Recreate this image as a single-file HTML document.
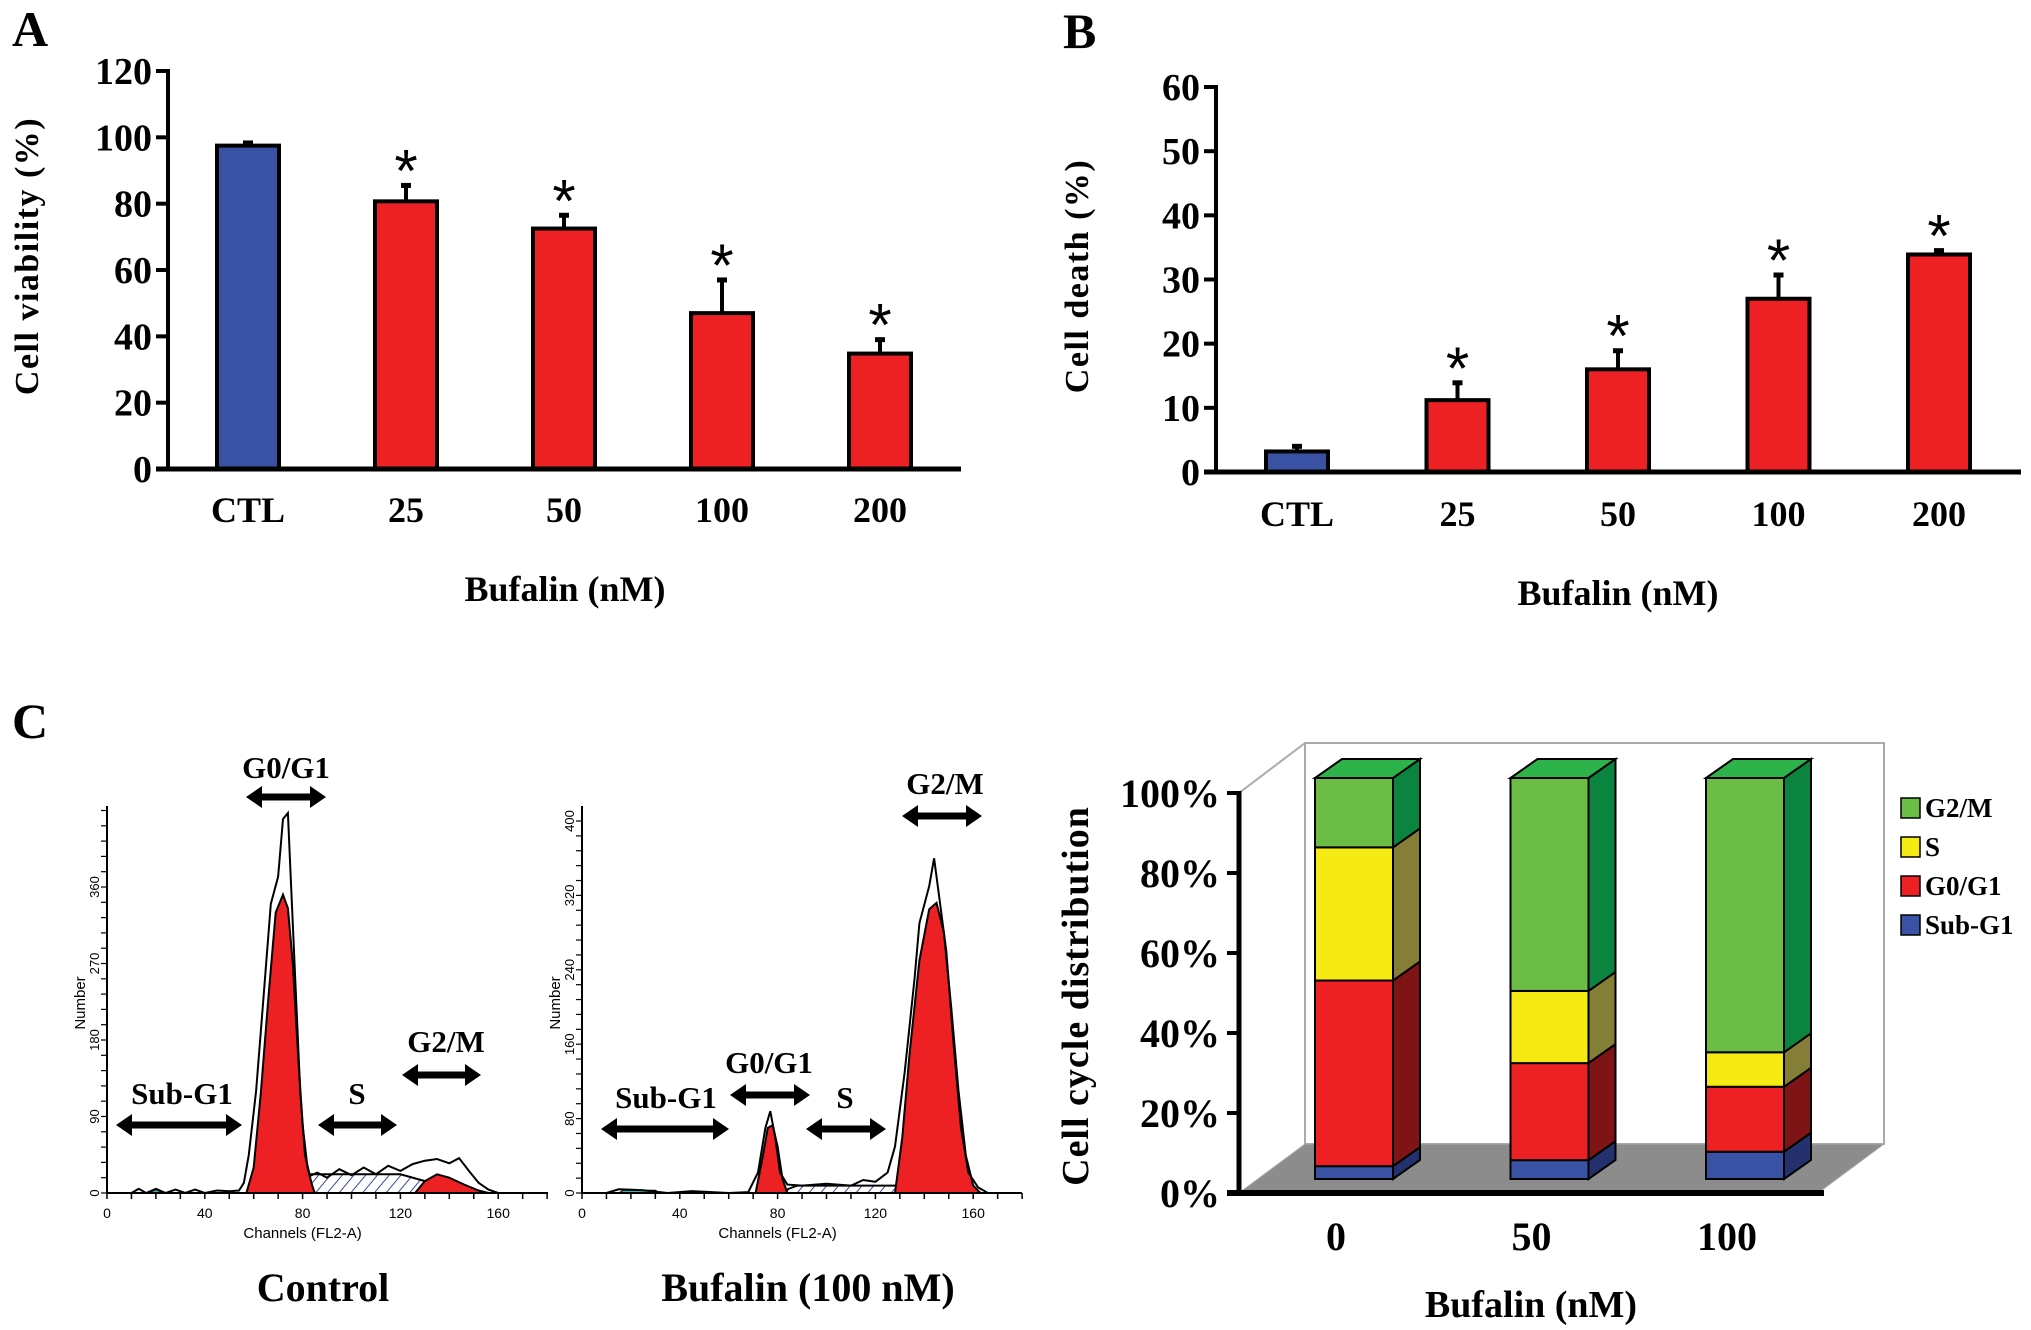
<!DOCTYPE html>
<html><head><meta charset="utf-8"><style>
html,body{margin:0;padding:0;background:#fff}
svg{display:block}
text{font-family:"Liberation Serif",serif;font-weight:bold;fill:#000}
.sm{font-family:"Liberation Sans",sans-serif;font-weight:normal}
.star{font-family:"Liberation Sans",sans-serif;font-weight:normal}
</style></head><body>
<svg id="fig" width="2031" height="1330" viewBox="0 0 2031 1330" xmlns="http://www.w3.org/2000/svg">
<defs>
<pattern id="hatch" width="9" height="9" patternUnits="userSpaceOnUse" patternTransform="rotate(40)">
<rect width="9" height="9" fill="#fff"/><line x1="0" y1="0" x2="0" y2="9" stroke="#3a4aa0" stroke-width="2"/>
</pattern>
</defs>
<g id="A"></g>
<g id="B"></g>
<g id="C1"></g>
<g id="C2"></g>
<g id="D"></g>
<g>
<text x="12" y="46" font-size="50">A</text>
<text x="1063" y="48" font-size="50">B</text>
<text x="12" y="738" font-size="50">C</text>
<text x="0" y="0" font-size="34" letter-spacing="1.5" text-anchor="middle" transform="translate(38,256) rotate(-90)">Cell viability (%)</text>
<text x="0" y="0" font-size="34" letter-spacing="1.5" text-anchor="middle" transform="translate(1088,276) rotate(-90)">Cell death (%)</text>
<text x="565" y="601" font-size="36" text-anchor="middle">Bufalin (nM)</text>
<text x="1618" y="605" font-size="36" text-anchor="middle">Bufalin (nM)</text>
<text x="323" y="1301" font-size="40" text-anchor="middle">Control</text>
<text x="808" y="1301" font-size="40" text-anchor="middle">Bufalin (100 nM)</text>
<text x="0" y="0" font-size="38" letter-spacing="1" text-anchor="middle" transform="translate(1088,996) rotate(-90)">Cell cycle distribution</text>
<text x="1531" y="1317" font-size="38" text-anchor="middle">Bufalin (nM)</text>
</g>
</svg>
<script>
// Panel A data
const catsA = ["CTL","25","50","100","200"];
const valsA = [97.5,80.7,72.5,47,34.8];
const errA = [0.8,4.8,4.0,10,4.2];
const ticksA = [0,20,40,60,80,100,120];
// Panel B data
const catsB = ["CTL","25","50","100","200"];
const valsB = [3.2,11.2,16,27,33.9];
const errB = [0.8,2.7,2.9,3.7,0.6];
const ticksB = [0,10,20,30,40,50,60];
// Histogram data [channel,count]
const ctrlLine = [[10,0],[13,5],[16,0],[20,5],[24,0],[28,4],[32,0],[36,4],[40,0],[45,3],[50,2],[54,3],[56,12],[58,45],[61,120],[64,230],[67,340],[70,372],[72,440],[74,447],[75,380],[77,250],[79,120],[81,45],[83,20],[86,24],[90,18],[95,28],[100,21],[105,30],[110,22],[115,32],[120,26],[125,34],[130,38],[135,40],[140,35],[144,41],[148,26],[152,12],[156,4],[160,0]];
const ctrlG1 = [[57,0],[60,30],[63,120],[66,230],[69,330],[72,351],[74,335],[76,270],[78,170],[80,80],[82,30],[84,8],[85,0]];
const ctrlS = [[64,0],[80,22],[120,22],[135,10],[150,0]];
const ctrlG2 = [[126,0],[130,14],[135,22],[140,18],[146,10],[152,3],[156,0]];
const ctrlSub = [[17,0],[20,4],[23,0]];
const bufLine = [[10,0],[15,4],[25,3],[35,0],[45,2],[60,0],[68,1],[72,22],[75,70],[77,88],[79,60],[81,22],[84,9],[90,8],[100,10],[110,8],[115,14],[120,12],[125,22],[128,50],[132,130],[136,230],[138,290],[142,330],[144,360],[146,320],[149,260],[152,160],[155,70],[158,22],[162,6],[166,0]];
const bufG1 = [[71,0],[74,40],[76,70],[78,73],[80,50],[82,15],[84,0]];
const bufS = [[80,0],[88,8],[128,8],[140,0]];
const bufG2 = [[128,0],[131,60],[134,150],[138,250],[142,305],[145,312],[148,280],[151,200],[154,110],[157,40],[160,8],[163,0]];
const bufSub = [[15,0],[17,3],[30,3],[32,0]];
// Cell cycle data (%)
const ccCats = ["0","50","100"];
const subG1 = [3.2,4.7,6.8];
const g0g1 = [46.3,24.2,16.2];
const sPh = [33.2,18.0,8.6];
const g2m = [17.3,53.1,68.4];
const ccTicks = [0,20,40,60,80,100];

const NS="http://www.w3.org/2000/svg";
function mk(parent,tag,attrs,txt){const e=document.createElementNS(NS,tag);for(const k in attrs)e.setAttribute(k,attrs[k]);if(txt!==undefined)e.textContent=txt;parent.appendChild(e);return e;}

function barPanel(g,cats,vals,errs,ticks,o){
  const y=v=>o.y0-(v-0)*(o.y0-o.yTop)/ticks[ticks.length-1];
  const x=i=>o.x0+i*o.step;
  ticks.forEach(t=>{
    const tk=mk(g,'line',{x1:o.ax-12,x2:o.ax,y1:y(t),y2:y(t),stroke:'#000','stroke-width':4});
    
    
    const tl=mk(g,'text',{x:o.ax-16,y:y(t)+13,'text-anchor':'end','font-size':38},String(t));
    
    
  });
  cats.forEach((c,i)=>{
    const cx=x(i),top=y(vals[i]),et=y(vals[i]+errs[i]);
    const eb=mk(g,'line',{x1:cx,x2:cx,y1:top,y2:et,stroke:'#000','stroke-width':4});
    
    
    const ec=mk(g,'line',{x1:cx-5,x2:cx+5,y1:et,y2:et,stroke:'#000','stroke-width':5});
    
    
    const r=mk(g,'rect',{x:cx-31,y:top,width:62,height:o.y0-top,fill:i==0?'#3a52a4':'#ed2024',stroke:'#000','stroke-width':4});
    
    
    if(i>0){const s=mk(g,'text',{x:cx,y:et+6,'text-anchor':'middle','font-size':60,class:'star'},'*');
      
      }
    const cl=mk(g,'text',{x:cx,y:o.catY,'text-anchor':'middle','font-size':36},c);
    
    
  });
  const ya=mk(g,'line',{x1:o.ax,x2:o.ax,y1:o.yTop-2,y2:o.y0,stroke:'#000','stroke-width':4});
  
  
  const xa=mk(g,'line',{x1:o.ax-12,x2:o.xEnd,y1:o.y0,y2:o.y0,stroke:'#000','stroke-width':5});
  
  
}
const A=document.getElementById('A');
barPanel(A,catsA,valsA,errA,ticksA,{ax:168,y0:469,yTop:71,x0:248,step:158,xEnd:961,catY:522});
const B=document.getElementById('B');
barPanel(B,catsB,valsB,errB,ticksB,{ax:1216,y0:472,yTop:87,x0:1297,step:160.5,xEnd:2021,catY:526});

function hist(g,o){
  const hx=c=>o.x0+c*2.445, hy=n=>1193-n*o.k;
  const path=pts=>'M'+pts.map(p=>hx(p[0]).toFixed(1)+','+hy(p[1]).toFixed(1)).join('L');
  let e;
  e=mk(g,'path',{d:path(o.S)+'Z',fill:'url(#hatch)',stroke:'#000','stroke-width':2});
  
  
  e=mk(g,'path',{d:path(o.G1)+'Z',fill:'#ed2024',stroke:'#000','stroke-width':2});
  
  
  e=mk(g,'path',{d:path(o.G2)+'Z',fill:'#ed2024',stroke:'#000','stroke-width':2});
  
  
  e=mk(g,'path',{d:path(o.sub)+'Z',fill:'#3ab3b0',stroke:'#000','stroke-width':1});
  
  
  e=mk(g,'path',{d:path(o.line),fill:'none',stroke:'#000','stroke-width':2});
  
  
  e=mk(g,'line',{x1:o.x0,x2:o.x0,y1:806,y2:1193,stroke:'#000','stroke-width':2});
  
  
  e=mk(g,'line',{x1:o.x0,x2:o.xEnd,y1:1193,y2:1193,stroke:'#000','stroke-width':2});
  
  
  for(let c=0;c<=180;c+=10){mk(g,'line',{x1:hx(c),x2:hx(c),y1:1193,y2:1199,stroke:'#000','stroke-width':1.5});}
  for(let n=0;n*o.k<=385;n+=o.minor){mk(g,'line',{x1:o.x0-6,x2:o.x0,y1:hy(n),y2:hy(n),stroke:'#000','stroke-width':1.2});}
  [0,40,80,120,160].forEach(c=>{e=mk(g,'text',{x:hx(c),y:1218,'text-anchor':'middle','font-size':14,class:'sm'},String(c));
    
    });
  o.yt.forEach(n=>{e=mk(g,'text',{x:0,y:0,'text-anchor':'middle','font-size':13,class:'sm',transform:`translate(${o.x0-8},${hy(n)}) rotate(-90)`},String(n));
    
    });
  e=mk(g,'text',{x:0,y:0,'text-anchor':'middle','font-size':15,class:'sm',transform:`translate(${o.x0-22},1003) rotate(-90)`},'Number');
  
  
  e=mk(g,'text',{x:hx(80),y:1238,'text-anchor':'middle','font-size':15,class:'sm'},'Channels (FL2-A)');
  
  
}
hist(document.getElementById('C1'),{x0:107,xEnd:548,k:0.85,minor:18,S:ctrlS,G1:ctrlG1,G2:ctrlG2,sub:ctrlSub,line:ctrlLine,yt:[0,90,180,270,360]});
hist(document.getElementById('C2'),{x0:582,xEnd:1022,k:0.93,minor:16,S:bufS,G1:bufG1,G2:bufG2,sub:bufSub,line:bufLine,yt:[0,80,160,240,320,400]});

function arrow(g,x1,x2,y,name){
  const h=11,w=3.5,L=16;
  const d=`M${x1},${y} L${x1+L},${y-h} L${x1+L},${y-w} L${x2-L},${y-w} L${x2-L},${y-h} L${x2},${y} L${x2-L},${y+h} L${x2-L},${y+w} L${x1+L},${y+w} L${x1+L},${y+h} Z`;
  const e=mk(g,'path',{d:d,fill:'#000'});
  
  
}
const C1=document.getElementById('C1'),C2=document.getElementById('C2');
[[C1,'G0/G1',286,778,246,326,797],[C1,'Sub-G1',182,1104,116,242,1125],[C1,'S',357,1104,318,397,1125],[C1,'G2/M',446,1052,402,481,1075],
 [C2,'G2/M',945,794,902,982,816],[C2,'G0/G1',769,1073,730,810,1095],[C2,'Sub-G1',666,1108,601,729,1129],[C2,'S',845,1108,806,886,1129]].forEach(a=>{
  const t=mk(a[0],'text',{x:a[2],y:a[3],'text-anchor':'middle','font-size':31},a[1]);
  
  
  arrow(a[0],a[4],a[5],a[6],'phase-arrow');
});

// 3D stacked chart
const D=document.getElementById('D');
(function(){
  let e;
  e=mk(D,'polygon',{points:'1305,743 1884,743 1884,1144 1305,1144',fill:'#fff',stroke:'#aaa','stroke-width':2});
  
  
  e=mk(D,'line',{x1:1239,y1:793,x2:1305,y2:743,stroke:'#aaa','stroke-width':2});
  
  
  e=mk(D,'polygon',{points:'1305,1144 1884,1144 1818,1193 1239,1193',fill:'#8c8c8c',stroke:'#aaa','stroke-width':1});
  
  
  const yA=p=>1193-p*4.0;
  ccTicks.forEach(t=>{
    e=mk(D,'line',{x1:1227,x2:1239,y1:yA(t),y2:yA(t),stroke:'#000','stroke-width':4});
    
    
    e=mk(D,'text',{x:1220,y:yA(t)+14,'text-anchor':'end','font-size':40},t+'%');
    
    
  });
  const fronts=['#3a52a4','#ed2024','#f5ea14','#6cbd45'];
  const sides=['#25306e','#7e1416','#857e37','#0b8440'];
  const names=['sub-g1','g0-g1','s','g2-m'];
  const dx=27,dy=19,bw=78;
  const yF=p=>1179-p*4.01;
  ccCats.forEach((c,i)=>{
    const x0=1315+i*195.5;
    const segs=[subG1[i],g0g1[i],sPh[i],g2m[i]];
    let cum=0;
    segs.forEach((v,j)=>{
      const yb=yF(cum),yt=yF(cum+v);
      e=mk(D,'polygon',{points:`${x0+bw},${yb} ${x0+bw+dx},${yb-dy} ${x0+bw+dx},${yt-dy} ${x0+bw},${yt}`,fill:sides[j],stroke:'#000','stroke-width':2});
      
      
      e=mk(D,'rect',{x:x0,y:yt,width:bw,height:yb-yt,fill:fronts[j],stroke:'#000','stroke-width':2});
      
      
      cum+=v;
    });
    const yt=yF(cum);
    e=mk(D,'polygon',{points:`${x0},${yt} ${x0+dx},${yt-dy} ${x0+bw+dx},${yt-dy} ${x0+bw},${yt}`,fill:'#2db34a',stroke:'#000','stroke-width':2});
    
    
    e=mk(D,'text',{x:x0+bw/2-18,y:1250,'text-anchor':'middle','font-size':40},c);
    
    
  });
  e=mk(D,'line',{x1:1239,x2:1239,y1:791,y2:1195,stroke:'#000','stroke-width':5});
  
  
  e=mk(D,'line',{x1:1227,x2:1824,y1:1193,y2:1193,stroke:'#000','stroke-width':6});
  
  
  const legC=['#6cbd45','#f5ea14','#ed2024','#3a52a4'],legT=['G2/M','S','G0/G1','Sub-G1'];
  legT.forEach((t,j)=>{
    const yc=808+j*39;
    e=mk(D,'rect',{x:1901,y:yc-10,width:19,height:20,fill:legC[j],stroke:'#000','stroke-width':1.5});
    
    
    e=mk(D,'text',{x:1925,y:yc+9,'font-size':27},t);
    
    
  });
})();
</script>
</body></html>
